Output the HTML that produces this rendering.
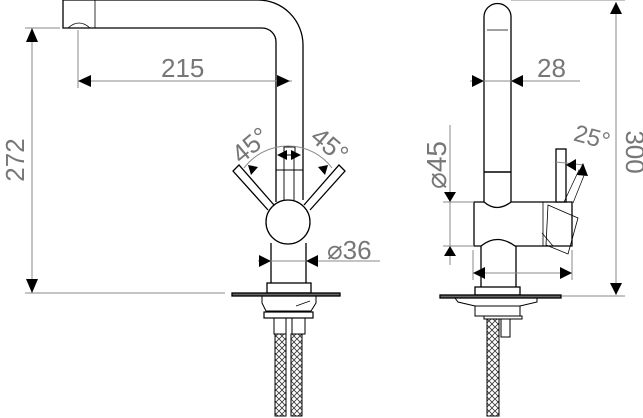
<!DOCTYPE html>
<html><head><meta charset="utf-8"><style>
html,body{margin:0;padding:0;background:#fff}
svg{display:block}
text{font-family:"Liberation Sans",sans-serif;fill:#777}
</style></head><body>
<svg width="643" height="418" viewBox="0 0 643 418" xmlns="http://www.w3.org/2000/svg">
<defs>
<pattern id="h" width="6" height="6" patternUnits="userSpaceOnUse">
<path d="M0 0L3 3L6 0M0 6L3 3L6 6" stroke="#333" stroke-width="0.8" fill="none"/>
</pattern>
</defs>
<g stroke="#000" stroke-width="1.3" fill="none">
<path d="M63 0 H258 A45 45 0 0 1 303 45 V200"/>
<path d="M63 0 V28 H262 A14 14 0 0 1 276 42 V202"/>
<path d="M95 0 V28" stroke-width="0.8"/>
<path d="M68 28 Q79 18 90 28" stroke-width="0.8"/>
<rect x="284" y="147" width="11" height="8" stroke-width="1"/>
<path d="M284 155 V200 M294 155 V200 M276 170 H303" stroke-width="0.9"/>
<path d="M274 205 L239 165 L233 171 L268 210" fill="#fff"/>
<path d="M304 205 L339 165 L345 171 L310 210" fill="#fff"/>
<circle cx="288" cy="222" r="22" fill="#fff"/>
<path d="M271 243 V283 M306 243 V283"/>
<rect x="267" y="283" width="44" height="10" fill="#fff"/>
<rect x="232" y="293" width="108" height="3" fill="#666"/>
<path d="M262 296 H316 V303 L311 311 H266 L262 303 Z" stroke-width="1"/>
<path d="M296 306 L310 301" stroke-width="0.8"/>
<rect x="264" y="312" width="49" height="6" stroke-width="1.2"/>
<rect x="274" y="318" width="12" height="16" stroke-width="1"/>
<rect x="292" y="318" width="13" height="16" stroke-width="1"/>
<rect x="275" y="334" width="11" height="82" fill="url(#h)" stroke-width="1"/>
<rect x="291" y="334" width="11" height="82" fill="url(#h)" stroke-width="1"/>

<path d="M484 203 V17 A13.5 13.5 0 0 1 511 17 V203"/>
<path d="M487 30 H508" stroke-width="0.8"/>
<path d="M484 172 H511" stroke-width="1.5"/>
<path d="M474 202 H484 Q497 213 511 202 H572 V246 H515 Q497 233 481 246 H474 Z" fill="#fff"/>
<path d="M543 202 V246" stroke-width="0.8"/>
<rect x="556" y="149" width="10" height="53" fill="#fff"/>
<path d="M548 205 L578 218 L568 254 L546 245 Z" stroke-width="0.8"/>
<path d="M542 233 L553 246 M564 202 L579 170 L585 173 L573 203" stroke-width="0.7"/>
<path d="M481 246 V287 M516 246 V287"/>
<rect x="475" y="287" width="45" height="8" fill="#fff"/>
<rect x="440" y="295" width="121" height="3" fill="#666"/>
<path d="M455 298 H537 V302 L520 306 H475 L458 302 Z" stroke-width="1"/>
<rect x="475" y="306" width="45" height="10" stroke-width="1"/>
<rect x="484" y="316" width="38" height="3" stroke-width="1"/>
<rect x="487" y="319" width="12" height="97" fill="url(#h)" stroke-width="1"/>
<rect x="501" y="319" width="9" height="18" stroke-width="1"/>
</g>

<g stroke="#888" stroke-width="1" fill="none">
<path d="M25 28 H60 M25 293 H225 M32 28 V293"/>
<path d="M78 30 V88 M78 81 H292"/>
<path d="M258 261 H380"/>
<path d="M244 168 A55 55 0 0 1 332 168"/>
<path d="M511 0 H625 M562 296 H625 M616 2 V295"/>
<path d="M470 81 H580"/>
<path d="M450 125 V265 M443 202 H474 M443 246 H474"/>
<path d="M473 250 V280 M572 250 V280 M473 273 H572"/>
<path d="M556 162 L584 165"/>
</g>
<g fill="#000">
<path d="M32 28 l-6 14 h12 z M32 293 l-6 -14 h12 z"/>
<path d="M78 81 l13 -6 v12 z M290 81 l-13 -6 v12 z"/>
<path d="M271 261 l-12 -6 v12 z M306 261 l12 -6 v12 z"/>
<path d="M277 155 l10 -5 v10 z M301 155 l-10 -5 v10 z"/>
<path d="M248 165 l3 10 l7 -8 z M328 165 l-3 10 l-7 -8 z"/>
<path d="M616 2 l-6 12 h12 z M616 295 l-6 -12 h12 z"/>
<path d="M484 81 l-12 -6 v12 z M511 81 l12 -6 v12 z"/>
<path d="M450 202 l-6 -10 h12 z M450 246 l-6 10 h12 z"/>
<path d="M473 273 l12 -6 v12 z M572 273 l-12 -6 v12 z"/>
<path d="M566 165 l10 -6 v12 z M583 163 l-6 12 l11 1 z"/>
</g>

<g font-size="26">
<text x="161" y="77">215</text>
<text transform="translate(24,160) rotate(-90)" text-anchor="middle">272</text>
<text x="327" y="259">⌀36</text>
<text x="537" y="77">28</text>
<text transform="translate(626,152) rotate(90)" text-anchor="middle">300</text>
<text transform="translate(446,165) rotate(-90)" text-anchor="middle" font-size="28">⌀45</text>
</g>
<g font-size="26">
<text transform="translate(256,152) rotate(-40)" text-anchor="middle">45°</text>
<text transform="translate(324,152) rotate(40)" text-anchor="middle">45°</text>
<text transform="translate(590,145) rotate(15)" text-anchor="middle" font-size="24">25°</text>
</g>
</svg>
</body></html>
